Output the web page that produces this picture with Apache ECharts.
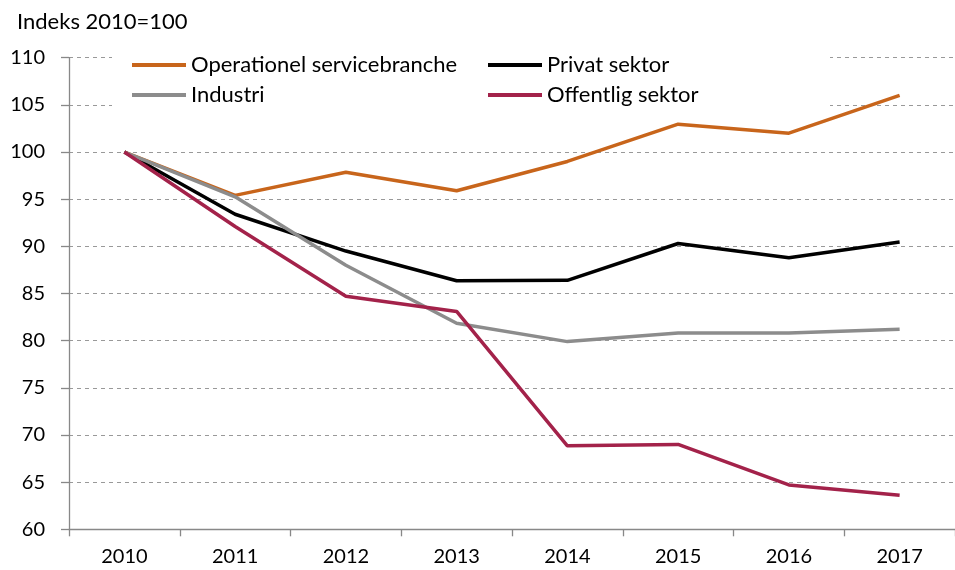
<!DOCTYPE html>
<html>
<head>
<meta charset="utf-8">
<script src="https://cdn.jsdelivr.net/npm/echarts@6/dist/echarts.min.js"></script>
<style>
  html, body { margin: 0; padding: 0; background: #fff; }
  #chart { width: 955px; height: 570px; }
</style>
</head>
<body>
<div id="chart"></div>
<script>
// data
const years = ['2010', '2011', '2012', '2013', '2014', '2015', '2016', '2017'];
const operationel = [100, 95.4, 97.85, 95.9, 99.0, 102.95, 102.0, 106.0];
const privat = [100, 93.4, 89.5, 86.35, 86.4, 90.3, 88.8, 90.45];
const industri = [100, 95.25, 88.0, 81.85, 79.9, 80.8, 80.8, 81.2];
const offentlig = [100, 92.1, 84.7, 83.1, 68.85, 69.0, 64.7, 63.6];
const yTicks = [60, 65, 70, 75, 80, 85, 90, 95, 100, 105, 110];

const FONT = 'Lato';
const chart = echarts.init(document.getElementById('chart'));

function line(name, data, color) {
  return {
    name: name,
    type: 'line',
    data: data,
    symbol: 'none',
    color: color,
    lineStyle: { width: 3.5, color: color },
    z: 3
  };
}

const legendText = { fontFamily: FONT, fontSize: 22, color: '#000', lineHeight: 22 };

chart.setOption({
  animation: false,
  textStyle: { fontFamily: FONT },
  grid: { left: 69, top: 57.7, width: 895, height: 471.6 },
  title: {
    text: 'Indeks 2010=100',
    left: 12, top: 6,
    textStyle: { fontFamily: FONT, fontSize: 22, fontWeight: 'normal', color: '#000' }
  },
  legend: [
    {
      data: ['Operationel servicebranche', 'Industri'],
      orient: 'vertical', left: 127, top: 49,
      icon: 'rect', itemWidth: 54, itemHeight: 4, itemGap: 8,
      textStyle: legendText
    },
    {
      data: ['Privat sektor', 'Offentlig sektor'],
      orient: 'vertical', left: 483, top: 49,
      icon: 'rect', itemWidth: 54, itemHeight: 4, itemGap: 8,
      textStyle: legendText
    }
  ],
  graphic: [{
    type: 'rect',
    shape: { x: 112, y: 46, width: 718, height: 66 },
    style: { fill: '#fff' },
    z: 1
  }],
  xAxis: {
    type: 'category',
    data: years,
    boundaryGap: true,
    axisLine: { lineStyle: { color: '#888', width: 1.3 } },
    axisTick: { show: true, length: 7, lineStyle: { color: '#888', width: 1.3 } },
    axisLabel: { color: '#000', fontSize: 20, margin: 17, fontFamily: FONT },
    splitLine: { show: false }
  },
  yAxis: {
    type: 'value',
    min: yTicks[0],
    max: yTicks[yTicks.length - 1],
    interval: 5,
    axisLine: { show: true, lineStyle: { color: '#888', width: 1.3 } },
    axisTick: { show: true, length: 8, lineStyle: { color: '#888', width: 1.3 } },
    axisLabel: { color: '#000', fontSize: 20, margin: 24, fontFamily: FONT },
    splitLine: { show: true, lineStyle: { color: '#999', type: [4, 4], width: 1 } }
  },
  series: [
    line('Operationel servicebranche', operationel, '#C8651B'),
    line('Privat sektor', privat, '#000000'),
    line('Industri', industri, '#8C8C8C'),
    line('Offentlig sektor', offentlig, '#A3224A')
  ]
});
</script>
</body>
</html>
